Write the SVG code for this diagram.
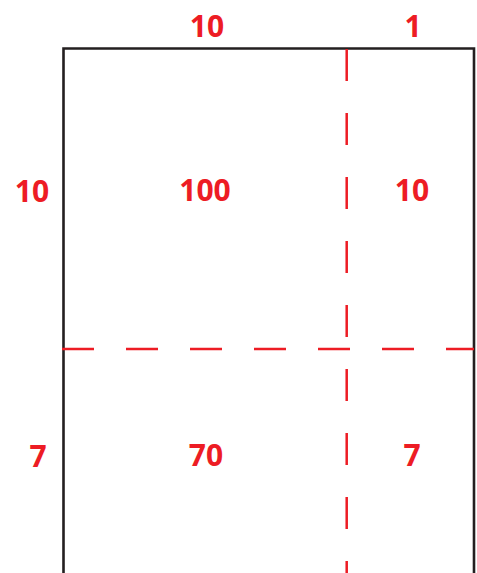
<svg xmlns="http://www.w3.org/2000/svg" width="477" height="573" viewBox="0 0 477 573">
<style>
.t{font-family:"Open Sans","Liberation Sans",sans-serif;font-weight:bold;font-size:30px;fill:#ed1c24;text-anchor:middle}
.d{stroke:#ed1c24;stroke-width:2.5;stroke-dasharray:32 32;fill:none}
</style>
<rect width="477" height="573" fill="#fff"/>
<g id="frame"><path d="M63.5,573 V48.5 H474 V573" fill="none" stroke="#231f20" stroke-width="2.6"/></g>
<g id="connectors">
<line class="d" x1="346.7" y1="49" x2="346.7" y2="573"/>
<line class="d" x1="62" y1="349" x2="474" y2="349"/>
</g>
<g id="labels">
<text class="t" x="207" y="37">10</text>
<text class="t" x="413" y="37">1</text>
<text class="t" x="32" y="202">10</text>
<text class="t" x="38" y="467">7</text>
<text class="t" x="205" y="201">100</text>
<text class="t" x="412" y="201">10</text>
<text class="t" x="206" y="466">70</text>
<text class="t" x="412" y="466">7</text>
</g>
</svg>
